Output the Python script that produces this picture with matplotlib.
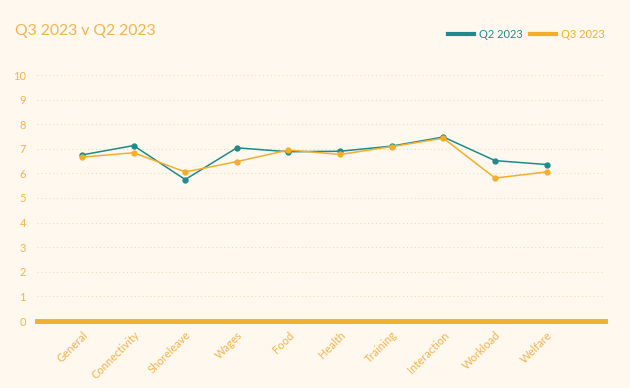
import matplotlib
matplotlib.use("Agg")
import matplotlib.pyplot as plt
from matplotlib.lines import Line2D

plt.rcParams['font.family'] = ['Lato', 'DejaVu Sans']

categories = ["General", "Connectivity", "Shoreleave", "Wages", "Food", "Health",
              "Training", "Interaction", "Workload", "Welfare"]
q2_2023 = [6.75, 7.13, 5.75, 7.04, 6.88, 6.9, 7.11, 7.48, 6.52, 6.36]
q3_2023 = [6.66, 6.84, 6.06, 6.48, 6.95, 6.77, 7.09, 7.43, 5.81, 6.06]
y_ticks = [0, 1, 2, 3, 4, 5, 6, 7, 8, 9, 10]

BG = '#fef8ee'
TEAL = '#1f8a8c'
ORANGE = '#f5ae2c'
LABEL = '#f6b24e'

fig = plt.figure(figsize=(6.3, 3.88), dpi=100, facecolor=BG)
ax = fig.add_axes([37/630, 67/388, 568/630, 246/388])
ax.set_facecolor(BG)

x = list(range(len(categories)))
ax.plot(x, q2_2023, color=TEAL, lw=1.1, marker='o', ms=3.5, zorder=3)
ax.plot(x, q3_2023, color=ORANGE, lw=1.1, marker='o', ms=3.5, zorder=3)

ax.set_ylim(0, 10)
ax.set_xlim(-0.87, 10.13)
ax.set_yticks(y_ticks)
ax.set_xticks(x)
ax.set_xticklabels(categories, rotation=45, ha='right', rotation_mode='anchor')
ax.tick_params(axis='both', length=0, labelsize=8, labelcolor=LABEL)
ax.tick_params(axis='y', pad=8)
ax.tick_params(axis='x', pad=6)

for v in y_ticks[1:]:
    ax.axhline(v, color='#eadcbd', lw=0.8, ls=(0, (1, 2.5)), zorder=1)
ax.axhline(0, color='#f0b031', lw=3.5, zorder=2, clip_on=False)

for s in ax.spines.values():
    s.set_visible(False)

fig.text(15/630, 1 - 31/388, "Q3 2023 v Q2 2023", color=LABEL, fontsize=11.3, va='center', ha='left')

handles = [Line2D([], [], color=TEAL, lw=3), Line2D([], [], color=ORANGE, lw=3)]
leg = fig.legend(handles, ["Q2 2023", "Q3 2023"], loc='center right',
                 bbox_to_anchor=(605/630, 1 - 34/388), ncol=2, frameon=False,
                 fontsize=8, handlelength=2.35, handletextpad=0.45, columnspacing=0.63,
                 borderpad=0, borderaxespad=0)
for t, c in zip(leg.get_texts(), [TEAL, ORANGE]):
    t.set_color(c)

fig.savefig('out.png', dpi=100, facecolor=BG)
